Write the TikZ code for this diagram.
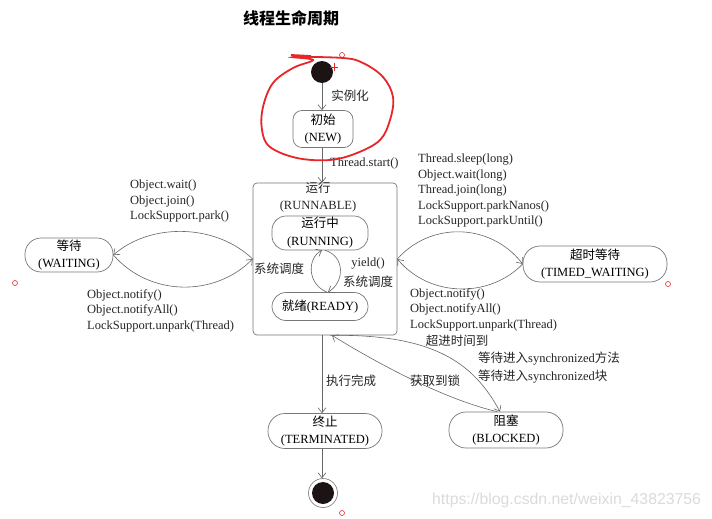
\documentclass[tikz,border=0pt]{standalone}
\usepackage{fontspec}
\setmainfont{Liberation Serif}
\newfontfamily\cjkf{Noto Sans CJK SC}
\newfontfamily\wmfont{Liberation Sans}
\usetikzlibrary{arrows.meta}
\newcommand\zh[1]{{\cjkf #1}}
\definecolor{boxc}{HTML}{777777}
\definecolor{linec}{HTML}{666666}
\definecolor{dotc}{HTML}{1C1414}
\definecolor{redc}{HTML}{E8262A}
\tikzset{
  state/.style={draw=boxc, line width=0.7pt, rounded corners=14pt, align=center, inner sep=0pt, font=\fontsize{12.5}{17}\selectfont},
  conn/.style={draw=linec, line width=0.6pt, -{Straight Barb[length=5pt,width=8pt]}},
  lbl/.style={font=\fontsize{12.5}{15.5}\selectfont, inner sep=0pt, text=black!85},
  lst/.style={lbl, align=left, anchor=north west},
  redmark/.style={draw=redc, line width=0.6pt}
}
\begin{document}
\begin{tikzpicture}[x=1pt,y=-1pt]
\useasboundingbox[fill=white] (0,0) rectangle (712,519);

% title
\node[font=\cjkf\bfseries\fontsize{16}{16}\selectfont] (title) at (291,18) {线程生命周期};

% start / end
\node[circle, fill=dotc, minimum size=22pt, inner sep=0pt] (start) at (322,72) {};
\node[circle, draw=boxc, line width=0.6pt, minimum size=29pt, inner sep=0pt] (endo) at (323,493) {};
\node[circle, fill=dotc, minimum size=22pt, inner sep=0pt] (endi) at (323,493) {};

% states
\node[state, rounded corners=9pt, minimum width=60pt, minimum height=37pt] (new) at (323,129) {\zh{初始}\\(NEW)};
\node[draw=boxc, line width=0.7pt, rounded corners=4pt, minimum width=144pt, minimum height=152pt, inner sep=0pt] (runnable) at (325,259) {};
\node[lbl, align=center, font=\fontsize{12.5}{17}\selectfont] (runnablet) at (318,197.5) {\zh{运行}\\(RUNNABLE)};
\node[state, minimum width=96pt, minimum height=34pt, font=\fontsize{12.5}{18}\selectfont] (running) at (320,233) {\zh{运行中}\\(RUNNING)};
\node[state, minimum width=96pt, minimum height=28pt] (ready) at (320,306.5) {\zh{就绪}(READY)};
\node[state, minimum width=88pt, minimum height=34pt, rounded corners=16pt] (waiting) at (69,255) {\zh{等待}\\(WAITING)};
\node[state, minimum width=144pt, minimum height=36pt, rounded corners=17pt] (timed) at (595,264) {\zh{超时等待}\\(TIMED\_WAITING)};
\node[state, minimum width=114pt, minimum height=35pt, rounded corners=17pt] (term) at (325,431) {\zh{终止}\\(TERMINATED)};
\node[state, minimum width=114pt, minimum height=36pt, rounded corners=17pt] (blocked) at (506,430) {\zh{阻塞}\\(BLOCKED)};

% connectors
\draw[conn] (start) -- (start |- new.north);
\draw[conn] (new.south -| 322,0) -- (322,0 |- runnable.north);
\draw[conn] (runnable.west) .. controls (215,223) and (150,223) .. (waiting.east);
\draw[conn] (waiting.east) .. controls (150,297) and (215,297) .. (runnable.west);
\draw[conn] (runnable.east) .. controls (430,222) and (490,222) .. (timed.west);
\draw[conn] (timed.west) .. controls (490,298) and (430,298) .. (runnable.east);
\draw[conn] ([xshift=7pt]ready.north) .. controls (307,284) and (307,258) .. ([xshift=2pt]running.south);
\draw[conn] ([xshift=5pt]running.south) .. controls (345,256) and (345,282) .. ([xshift=8pt]ready.north);
\draw[conn] (322,0 |- runnable.south) -- (322,0 |- term.north);
\draw[conn] (322,0 |- term.south) -- (322,0 |- endo.north);
\draw[conn] ([xshift=5pt]runnable.south) .. controls (430,334) and (472,360) .. ([xshift=-6pt]blocked.north);
\draw[conn] ([xshift=-9pt]blocked.north) .. controls (440,398) and (372,360) .. ([xshift=7pt]runnable.south);

% labels
\node[lbl] (l1) at (350,96) {\zh{实例化}};
\node[lbl, anchor=west] (l2) at (330,163) {Thread.start()};
\node[lbl] (l3) at (279,269) {\zh{系统调度}};
\node[lbl] (l4) at (368,264) {yield()};
\node[lbl] (l5) at (368,282) {\zh{系统调度}};
\node[lst] (l6) at (130,180) {Object.wait()\\Object.join()\\LockSupport.park()};
\node[lst] (l7) at (87,289) {Object.notify()\\Object.notifyAll()\\LockSupport.unpark(Thread)};
\node[lst] (l8) at (418,154) {Thread.sleep(long)\\Object.wait(long)\\Thread.join(long)\\LockSupport.parkNanos()\\LockSupport.parkUntil()};
\node[lst] (l9) at (410,288) {Object.notify()\\Object.notifyAll()\\LockSupport.unpark(Thread)};
\node[lbl] (l10) at (457,341) {\zh{超进时间到}};
\node[lst, font=\fontsize{12.5}{18}\selectfont] (l11) at (478,352) {\zh{等待进入}synchronized\zh{方法}\\\zh{等待进入}synchronized\zh{块}};
\node[lbl] (l12) at (435,381) {\zh{获取到锁}};
\node[lbl] (l13) at (351,381) {\zh{执行完成}};

% watermark
\node[anchor=west, inner sep=0pt, text=black!14, font=\wmfont\fontsize{15.8}{15.8}\selectfont] (wm) at (432,500) {https://blog.csdn.net/weixin\_43823756};

% red annotations
\draw[redc, line width=1.8pt] plot[smooth cycle, tension=0.6] coordinates {(293,57) (343,58) (363,63) (383,77) (393,97) (390,120) (380,140) (357,153) (330,160) (297,158) (270,147) (262,130) (263,107) (273,83) (293,68) (313,60)};
\draw[redc, line width=1.8pt] (291,55) -- (311,56);
\draw[redc, line width=0.9pt] (330,67) -- (338,67) (334,63) -- (334,71);
\coordinate (rc1) at (342,55);
\coordinate (rc2) at (15,283);
\coordinate (rc3) at (668,284);
\coordinate (rc4) at (342,513);
\foreach \c in {rc1,rc2,rc3,rc4} \draw[redmark] (\c) circle (2.5pt);
\end{tikzpicture}
\end{document}
